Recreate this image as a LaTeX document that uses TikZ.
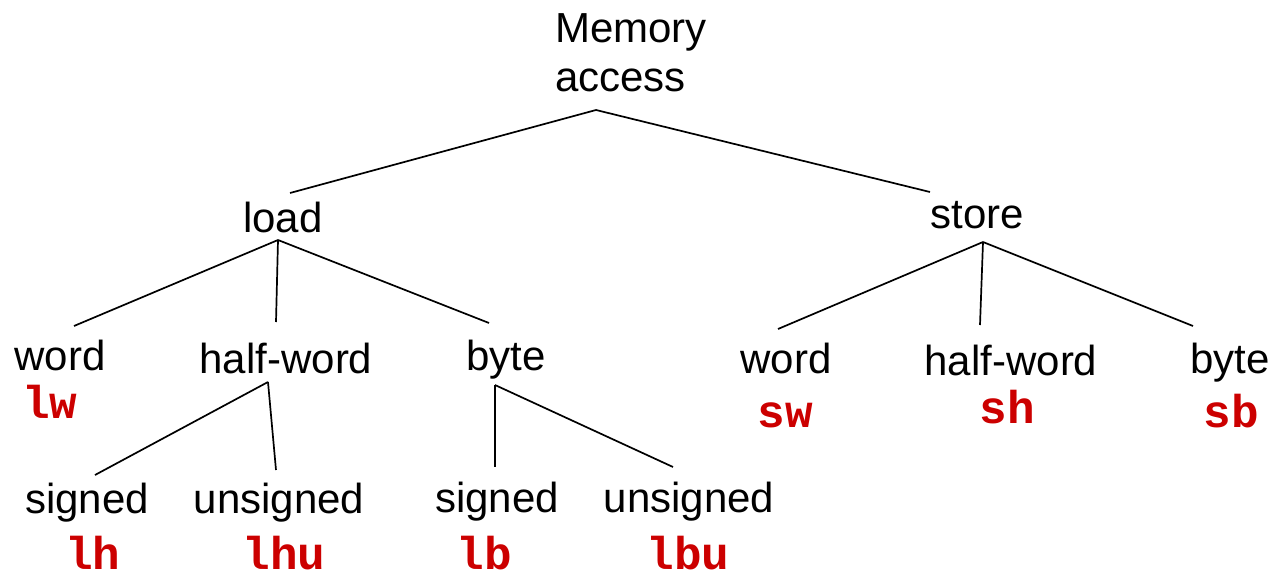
\documentclass[tikz,border=0pt]{standalone}
\usepackage{fontspec}
\setmainfont{Liberation Sans}
\newfontfamily\codefont{Liberation Mono}
\definecolor{codered}{RGB}{204,0,0}
\begin{document}
\begin{tikzpicture}[x=1pt,y=-1pt,
  lbl/.style={inner sep=0pt,anchor=base,font=\fontsize{42}{49}\selectfont},
  code/.style={inner sep=0pt,anchor=base,text=codered,font=\codefont\bfseries\fontsize{46}{50}\selectfont},
  edge/.style={line width=1.7pt,black}]
\useasboundingbox (0,0) rectangle (1276,577);
% texts
\node[lbl,anchor=base west] (mem) at (555,43) {Memory};
\node[lbl,anchor=base west] (acc) at (555,92) {access};
\node[lbl] (load) at (283,233) {load};
\node[lbl] (store) at (977,229) {store};
\node[lbl] (lword) at (60,370) {word};
\node[code] (lw) at (50,418) {lw};
\node[lbl] (lhalf) at (286,373) {half-word};
\node[lbl] (lbyte) at (506,370) {byte};
\node[lbl] (hsig) at (87,513) {signed};
\node[lbl] (hunsig) at (279,513) {unsigned};
\node[code] (lh) at (93,569) {lh};
\node[code] (lhu) at (284,569) {lhu};
\node[lbl] (bsig) at (497,512) {signed};
\node[lbl] (bunsig) at (689,512) {unsigned};
\node[code] (lb) at (484,569) {lb};
\node[code] (lbu) at (688,569) {lbu};
\node[lbl] (sword) at (786,373) {word};
\node[code] (sw) at (785,427) {sw};
\node[lbl] (shalf) at (1011,375) {half-word};
\node[code] (sh) at (1007,423) {sh};
\node[lbl] (sbyte) at (1230,373) {byte};
\node[code] (sb) at (1231,427) {sb};
% connector end points
\coordinate (memB) at (596,110);
\coordinate (loadT) at (290,193);
\coordinate (storeT) at (930,192);
\coordinate (loadB) at (278,240);
\coordinate (lwordT) at (74,326);
\coordinate (lhalfT) at (276,322);
\coordinate (lbyteT) at (489,323);
\coordinate (storeB) at (983,242);
\coordinate (swordT) at (778,329);
\coordinate (shalfT) at (980,325);
\coordinate (sbyteT) at (1193,326);
\coordinate (lhalfB) at (268,382);
\coordinate (hsigT) at (95,475);
\coordinate (hunsigT) at (276,470);
\coordinate (lbyteB) at (495,385);
\coordinate (bsigT) at (495,467);
\coordinate (bunsigT) at (673,467);
% connectors
\draw[edge] (loadT) -- (memB) -- (storeT);
\draw[edge] (loadB) -- (lwordT);
\draw[edge] (loadB) -- (lhalfT);
\draw[edge] (loadB) -- (lbyteT);
\draw[edge] (storeB) -- (swordT);
\draw[edge] (storeB) -- (shalfT);
\draw[edge] (storeB) -- (sbyteT);
\draw[edge] (lhalfB) -- (hsigT);
\draw[edge] (lhalfB) -- (hunsigT);
\draw[edge] (lbyteB) -- (bsigT);
\draw[edge] (lbyteB) -- (bunsigT);
\end{tikzpicture}
\end{document}
